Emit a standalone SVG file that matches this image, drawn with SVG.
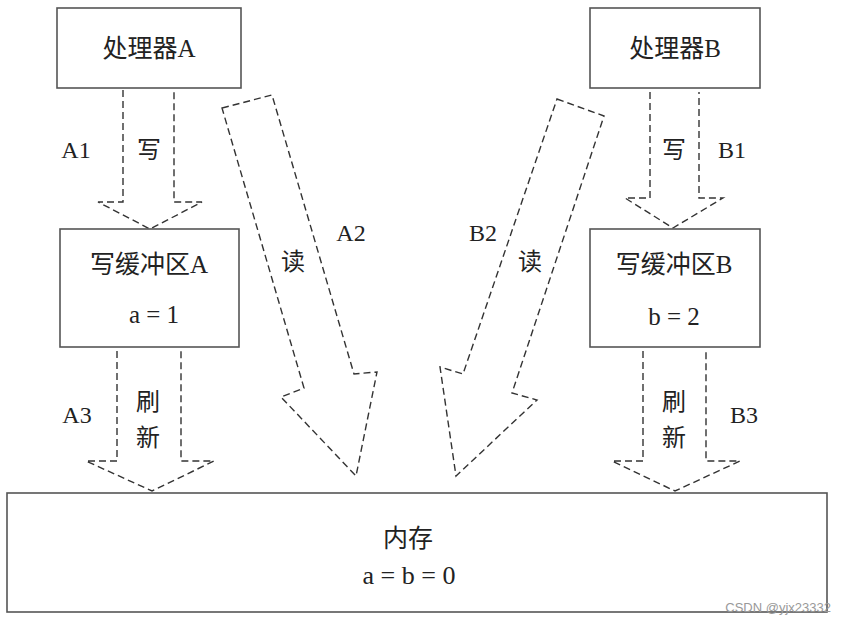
<svg xmlns="http://www.w3.org/2000/svg" width="843" height="626" viewBox="0 0 843 626">
<style>
.box{fill:#fff;stroke:#555;stroke-width:1.6}
.arr{fill:none;stroke:#333;stroke-width:1.4;stroke-dasharray:7 4}
text{font-family:"Liberation Serif","Noto Sans CJK SC",serif;font-size:24px;fill:#222;text-anchor:middle}
.t{font-size:25px}
.wm{font-family:"Liberation Sans",sans-serif;font-size:13px;fill:#999;text-anchor:end}
</style>
<rect width="843" height="626" fill="#fff"/>
<g id="connectors">
<path id="A1" class="arr" d="M123,90 V202 H98 L150,229 L202,202 H174 V90"/>
<path id="B1" class="arr" d="M650,92 V198 H625 L673,228 L723,198 H699 V92"/>
<path id="A3" class="arr" d="M117,351 V461 H86 L152,491 L214,461 H181 V351"/>
<path id="B3" class="arr" d="M643,351 V461 H612 L675,491 L740,461 H706 V351"/>
<path id="A2" class="arr" d="M222,108 L272,95 L354,374 L377,372 L356,476 L281,397 L304,388 Z"/>
<path id="B2" class="arr" d="M557,99 L604,116 L512,393 L537,400 L456,476 L440,367 L463,374 Z"/>
<text x="76" y="158">A1</text>
<text x="149" y="158">写</text>
<text x="351" y="241">A2</text>
<text x="293" y="270">读</text>
<text x="483" y="241">B2</text>
<text x="530" y="270">读</text>
<text x="674" y="158">写</text>
<text x="732" y="158">B1</text>
<text x="77" y="423">A3</text>
<text x="148" y="410">刷</text>
<text x="148" y="446">新</text>
<text x="674" y="410">刷</text>
<text x="674" y="446">新</text>
<text x="744" y="423">B3</text>
</g>
<g id="procA">
<rect class="box" x="57" y="8" width="184" height="80"/>
<text class="t" x="149" y="57">处理器A</text>
</g>
<g id="procB">
<rect class="box" x="590" y="8" width="170" height="80"/>
<text class="t" x="675" y="57">处理器B</text>
</g>
<g id="bufA">
<rect class="box" x="60" y="229" width="179" height="118"/>
<text class="t" x="149" y="273">写缓冲区A</text>
<text class="t" x="154" y="323">a = 1</text>
</g>
<g id="bufB">
<rect class="box" x="590" y="229" width="170" height="118"/>
<text class="t" x="674" y="273">写缓冲区B</text>
<text class="t" x="674" y="325">b = 2</text>
</g>
<g id="mem">
<rect class="box" x="7" y="493" width="820" height="119"/>
<text class="t" x="408" y="547">内存</text>
<text x="409" y="584" style="font-size:26px">a = b = 0</text>
</g>
<text class="wm" x="831" y="612">CSDN @yjx23332</text>
</svg>
